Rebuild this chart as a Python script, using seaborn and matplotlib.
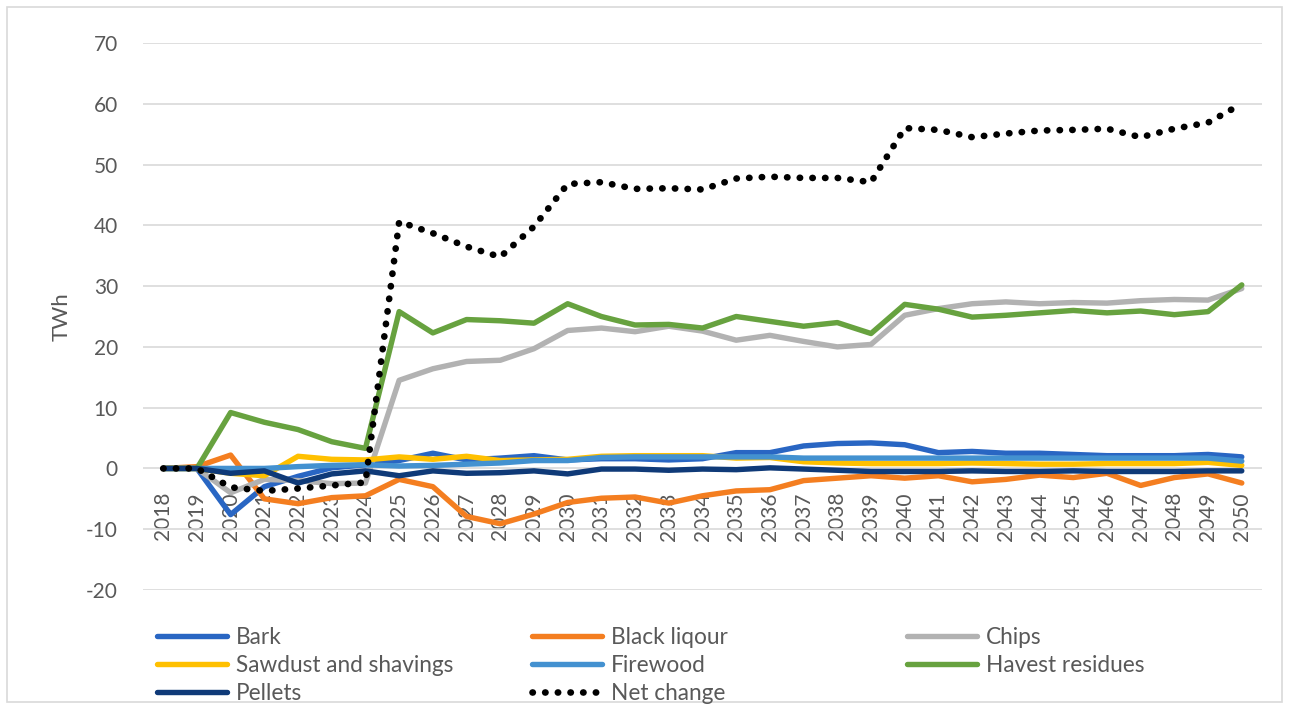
import matplotlib
matplotlib.use("Agg")
import matplotlib.pyplot as plt
from matplotlib.patches import Rectangle
import seaborn as sns

years = list(range(2018, 2051))

bark = [0, 0, -7.6, -3.0, -1.3, 0.1, 0.6, 1.3, 2.5, 1.4, 1.7, 2.1, 1.4, 1.6, 1.6, 1.4, 1.6,
        2.6, 2.6, 3.7, 4.1, 4.2, 3.9, 2.6, 2.8, 2.5, 2.5, 2.3, 2.1, 2.1, 2.1, 2.3, 1.9]
black_liqour = [0, 0.3, 2.2, -5.0, -5.8, -4.8, -4.5, -1.8, -3.0, -7.9, -9.1, -7.5, -5.6, -4.9, -4.7, -5.7, -4.5,
                -3.7, -3.5, -2.0, -1.6, -1.2, -1.6, -1.2, -2.2, -1.8, -1.1, -1.5, -0.8, -2.8, -1.5, -0.9, -2.4]
chips = [0, 0, -4.0, -1.8, -2.0, -2.5, -2.4, 14.5, 16.4, 17.6, 17.8, 19.7, 22.7, 23.1, 22.5, 23.4, 22.6,
         21.1, 21.9, 20.9, 20.0, 20.4, 25.2, 26.3, 27.1, 27.4, 27.1, 27.3, 27.2, 27.6, 27.8, 27.7, 29.6]
sawdust = [0, 0, -0.8, -1.2, 2.0, 1.5, 1.4, 1.9, 1.5, 2.0, 1.3, 1.4, 1.5, 2.0, 2.1, 2.1, 2.1,
           1.7, 1.8, 1.1, 0.9, 0.8, 0.8, 0.8, 0.9, 0.8, 0.7, 0.7, 0.8, 0.8, 0.8, 1.0, 0.5]
firewood = [0, 0, 0, 0, 0.3, 0.5, 0.6, 0.4, 0.5, 0.7, 0.9, 1.3, 1.3, 1.8, 1.9, 1.9, 1.9,
            1.9, 1.9, 1.7, 1.7, 1.7, 1.7, 1.7, 1.7, 1.7, 1.7, 1.7, 1.7, 1.7, 1.7, 1.7, 1.2]
harvest = [0, 0, 9.2, 7.6, 6.4, 4.4, 3.3, 25.8, 22.3, 24.5, 24.3, 23.9, 27.1, 25.0, 23.6, 23.7, 23.1,
           25.0, 24.2, 23.4, 24.0, 22.2, 27.0, 26.2, 24.9, 25.2, 25.6, 26.0, 25.6, 25.9, 25.3, 25.8, 30.2]
pellets = [0, 0, -0.8, -0.4, -2.4, -0.9, -0.4, -1.2, -0.4, -0.8, -0.7, -0.4, -0.9, -0.1, -0.1, -0.3, -0.1,
           -0.2, 0.1, -0.1, -0.3, -0.5, -0.5, -0.5, -0.4, -0.5, -0.5, -0.4, -0.5, -0.5, -0.5, -0.4, -0.4]
net_change = [0, 0, -3.1, -3.7, -3.3, -2.8, -2.3, 40.6, 38.7, 36.5, 34.8, 39.8, 46.8, 47.1, 46.0, 46.1, 45.9,
              47.7, 48.0, 47.8, 47.8, 47.1, 56.0, 55.7, 54.5, 55.1, 55.6, 55.7, 55.9, 54.5, 55.9, 56.9, 60.0]

series = [
    ("Bark", bark, "#2966C3"),
    ("Black liqour", black_liqour, "#F47E20"),
    ("Chips", chips, "#B2B2B2"),
    ("Sawdust and shavings", sawdust, "#FFC000"),
    ("Firewood", firewood, "#4391D0"),
    ("Havest residues", harvest, "#67A23F"),
    ("Pellets", pellets, "#0F3A78"),
]

sns.set_theme(style="white")
plt.rcParams['font.family'] = ['Lato', 'DejaVu Sans']
plt.rcParams['axes.unicode_minus'] = False
txt = "#595959"
fs_tick = 15
fs_leg = 16.3

fig = plt.figure(figsize=(12.89, 7.09), dpi=100)
ax = fig.add_axes([143 / 1289, 1 - 590 / 709, (1262 - 143) / 1289, (590 - 43) / 709])

for name, vals, col in series:
    sns.lineplot(x=years, y=vals, ax=ax, color=col, lw=3.9, label=name,
                 solid_capstyle="round", solid_joinstyle="round")
sns.lineplot(x=years, y=net_change, ax=ax, color="black", lw=4.8, label="Net change",
             linestyle=(0, (0.05, 1.85)), dash_capstyle="round")

ax.set_xlim(2017.4, 2050.6)
ax.set_ylim(-20, 70)
ax.set_yticks(range(-20, 71, 10))
ax.set_xticks(years)
ax.set_xticklabels([str(y) for y in years])
ax.yaxis.grid(True, color="#D9D9D9", lw=1.2)
ax.xaxis.grid(False)
for s in ["top", "right", "left"]:
    ax.spines[s].set_visible(False)
ax.spines["bottom"].set_position(("data", 0))
ax.spines["bottom"].set_color("none")
ax.tick_params(axis="y", length=0, pad=18, labelsize=fs_tick, labelcolor=txt)
ax.tick_params(axis="x", length=0, pad=17, labelsize=fs_tick, labelcolor=txt, labelrotation=90)
ax.set_ylabel("TWh", fontsize=fs_tick + 1, color=txt)
ax.yaxis.set_label_coords((72 - 143) / 1119, 0.5)
ax.set_xlabel("")
ax.legend_.remove()

handles, labels = ax.get_legend_handles_labels()
lookup = dict(zip(labels, handles))
columns = [["Bark", "Sawdust and shavings", "Pellets"],
           ["Black liqour", "Firewood", "Net change"],
           ["Chips", "Havest residues"]]
for xpix, names in zip([157, 532, 907], columns):
    leg = fig.legend([lookup[n] for n in names], names, loc="upper left",
                     bbox_to_anchor=(xpix / 1289, 1 - 627 / 709), frameon=False,
                     fontsize=fs_leg, handlelength=3.1, handletextpad=0.4,
                     borderpad=0, borderaxespad=0, labelspacing=0.3)
    for t in leg.get_texts():
        t.set_color(txt)

fig.patches.append(Rectangle((7 / 1289, 7 / 709), 1275 / 1289, 695 / 709, transform=fig.transFigure,
                             fill=False, ec="#D9D9D9", lw=1.2))

fig.savefig("out.png", dpi=100, facecolor="white")
